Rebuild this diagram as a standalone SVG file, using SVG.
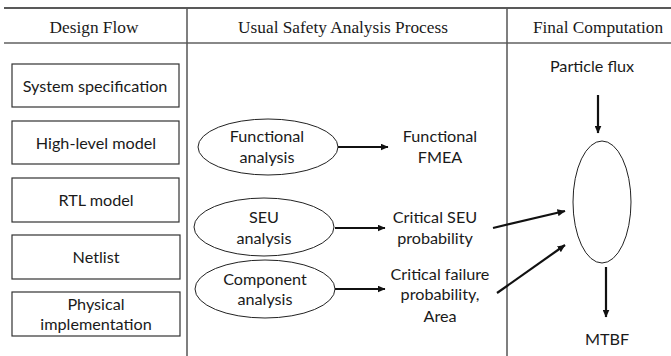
<svg xmlns="http://www.w3.org/2000/svg" width="671" height="356" viewBox="0 0 671 356">
  <style>
    .hdr { font-family: "Liberation Serif", "Times New Roman", serif; font-size: 17.3px; fill: #1a1a1a; text-anchor: middle; }
    .lbl { font-family: Lato, "Open Sans", sans-serif; font-size: 16.2px; fill: #1a1a1a; text-anchor: middle; }
    .box { fill: #ffffff; stroke: #333333; stroke-width: 1.2; }
    .ell { fill: #ffffff; stroke: #222222; stroke-width: 1; }
    .grid { stroke: #555555; stroke-width: 1.5; fill: none; }
    .conn line { stroke: #111111; stroke-width: 2.2; marker-end: url(#arrow); }
  </style>
  <defs>
    <marker id="arrow" markerUnits="userSpaceOnUse" markerWidth="8" markerHeight="7" refX="7.5" refY="3.5" orient="auto">
      <path d="M0,0 L8,3.5 L0,7 Z" fill="#111111"/>
    </marker>
  </defs>
  <rect width="671" height="356" fill="#ffffff"/>

  <!-- table frame -->
  <g id="table">
    <line x1="4" y1="8" x2="671" y2="8" stroke="#222222" stroke-width="1.3"/>
    <line x1="4" y1="43" x2="671" y2="43" stroke="#888888" stroke-width="2"/>
    <line class="grid" x1="187" y1="8" x2="187" y2="356"/>
    <line class="grid" x1="507" y1="8" x2="507" y2="356"/>
    <text class="hdr" x="94" y="33">Design Flow</text>
    <text class="hdr" x="343" y="33">Usual Safety Analysis Process</text>
    <text class="hdr" x="598" y="33">Final Computation</text>
  </g>

  <!-- design flow column -->
  <g id="system-specification">
    <rect class="box" x="12" y="64" width="167" height="43"/>
    <text class="lbl" x="95" y="92">System specification</text>
  </g>
  <g id="high-level-model">
    <rect class="box" x="12" y="121" width="167" height="43"/>
    <text class="lbl" x="96" y="149">High-level model</text>
  </g>
  <g id="rtl-model">
    <rect class="box" x="12" y="178" width="167" height="44"/>
    <text class="lbl" x="96" y="206">RTL model</text>
  </g>
  <g id="netlist">
    <rect class="box" x="12" y="235" width="168" height="44"/>
    <text class="lbl" x="96" y="263">Netlist</text>
  </g>
  <g id="physical-implementation">
    <rect class="box" x="12" y="292" width="168" height="44"/>
    <text class="lbl" x="96" y="310">Physical</text>
    <text class="lbl" x="96" y="330">implementation</text>
  </g>

  <!-- safety analysis column -->
  <g id="functional-analysis">
    <ellipse class="ell" cx="268" cy="147" rx="70" ry="28"/>
    <text class="lbl" x="267" y="142">Functional</text>
    <text class="lbl" x="267" y="163">analysis</text>
  </g>
  <g id="seu-analysis">
    <ellipse class="ell" cx="264" cy="227" rx="70" ry="29"/>
    <text class="lbl" x="264" y="223">SEU</text>
    <text class="lbl" x="264" y="244">analysis</text>
  </g>
  <g id="component-analysis">
    <ellipse class="ell" cx="265" cy="289" rx="70" ry="29"/>
    <text class="lbl" x="265" y="285">Component</text>
    <text class="lbl" x="265" y="305">analysis</text>
  </g>
  <g id="functional-fmea">
    <text class="lbl" x="440" y="142">Functional</text>
    <text class="lbl" x="440" y="163">FMEA</text>
  </g>
  <g id="critical-seu-probability">
    <text class="lbl" x="435" y="223">Critical SEU</text>
    <text class="lbl" x="435" y="244">probability</text>
  </g>
  <g id="critical-failure-probability">
    <text class="lbl" x="440" y="280">Critical failure</text>
    <text class="lbl" x="440" y="300">probability,</text>
    <text class="lbl" x="440" y="322">Area</text>
  </g>

  <!-- final computation column -->
  <g id="particle-flux">
    <text class="lbl" x="592" y="72">Particle flux</text>
  </g>
  <g id="mtbf-computation">
    <ellipse class="ell" cx="602" cy="202" rx="29" ry="61"/>
  </g>
  <g id="mtbf">
    <text class="lbl" x="607" y="345">MTBF</text>
  </g>

  <!-- connectors -->
  <g id="connectors" class="conn">
    <line x1="338" y1="147" x2="388" y2="147"/>
    <line x1="335" y1="228" x2="385" y2="228"/>
    <line x1="335" y1="289" x2="385" y2="289"/>
    <line x1="493" y1="228" x2="565" y2="211"/>
    <line x1="497" y1="293" x2="565" y2="245"/>
    <line x1="598" y1="95" x2="598" y2="133"/>
    <line x1="606" y1="267" x2="606" y2="317"/>
  </g>
</svg>
